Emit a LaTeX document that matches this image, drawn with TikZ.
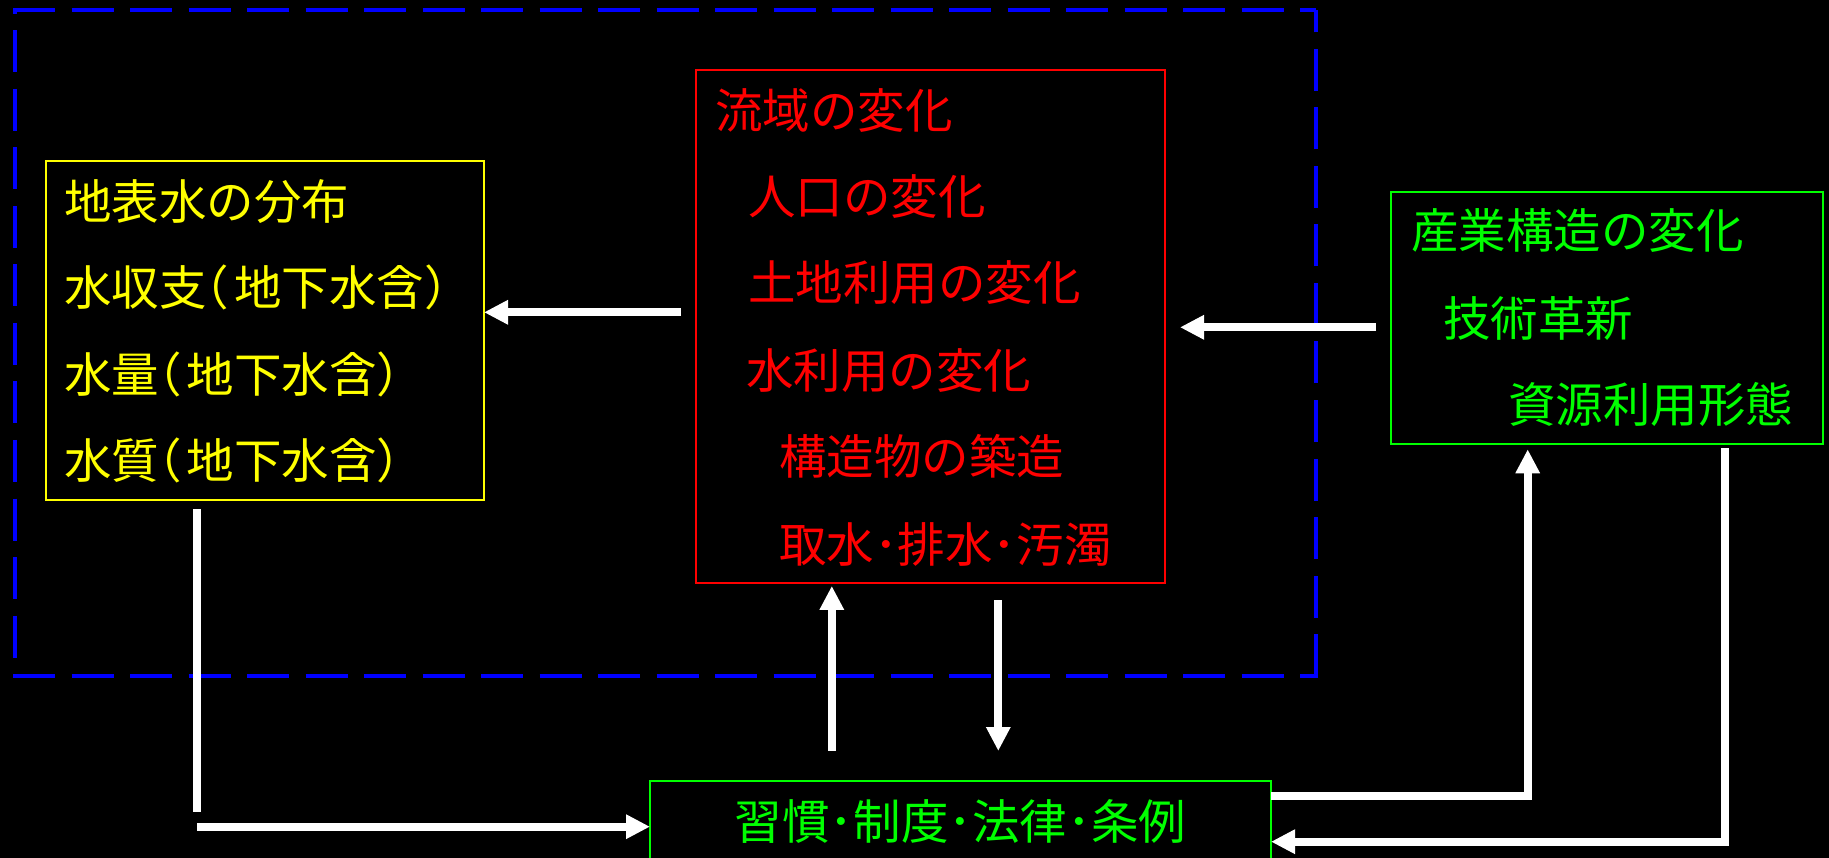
\documentclass[tikz,border=0pt]{standalone}
\usepackage{fontspec}
\newfontfamily\jp{Noto Sans CJK JP}
\usetikzlibrary{arrows.meta}
\definecolor{ylw}{RGB}{255,255,0}
\definecolor{rd}{RGB}{255,0,0}
\definecolor{grn}{RGB}{0,255,0}
\definecolor{blu}{RGB}{0,0,255}
\newcommand{\lpa}{\kern-25pt（\kern5pt}
\newcommand{\rpa}{）\kern-18pt}
\tikzset{
 box/.style={draw=#1, line width=2pt, anchor=north west, inner sep=0pt, outer sep=0pt, rectangle},
 txt/.style={text=#1, anchor=west, inner sep=0pt, font=\jp\fontsize{47.5pt}{52pt}\selectfont},
 arr/.style={draw=white, line width=8pt, line join=miter, -{Triangle[length=24pt,width=23pt]}},
 shaft/.style={draw=white, line width=8pt},
 frame/.style={draw=blu, line width=4pt, dash pattern=on 42pt off 16.5pt},
}
\begin{document}
\begin{tikzpicture}[x=1pt,y=-1pt]
\fill[black] (0,0) rectangle (1829,858);
\useasboundingbox (0,0) rectangle (1829,858);
\clip (0,0) rectangle (1829,858);
% dashed frame
\coordinate (f1) at (15,10);
\coordinate (f2) at (1316,10);
\coordinate (f3) at (1316,676);
\coordinate (f4) at (15,676);
\draw[frame] ([xshift=-2pt]f1) -- (f2);
\draw[frame] (f3) -- (f2);
\draw[frame] ([xshift=-2pt]f4) -- ([xshift=2pt]f3);
\draw[frame, dash phase=38pt] (f1) -- (f4);
% boxes
\node[box=ylw, minimum width=438pt, minimum height=339pt] (yel) at (46,161) {};
\node[box=rd, minimum width=469pt, minimum height=512pt] (red) at (696,70.5) {};
\node[box=grn, minimum width=432pt, minimum height=252pt] (gR) at (1391,192) {};
\node[box=grn, minimum width=621pt, minimum height=150pt] (gB) at (650,781) {};
% yellow texts
\node[txt=ylw] (y1) at (64,202) {地表水の分布};
\node[txt=ylw] (y2) at (64,287) {水収支\lpa 地下水含\rpa};
\node[txt=ylw] (y3) at (64,374) {水量\lpa 地下水含\rpa};
\node[txt=ylw] (y4) at (64,460) {水質\lpa 地下水含\rpa};
% red texts
\node[txt=rd] (r1) at (715,110.5) {流域の変化};
\node[txt=rd] (r2) at (748,196.5) {人口の変化};
\node[txt=rd] (r3) at (748,283) {土地利用の変化};
\node[txt=rd] (r4) at (746,371) {水利用の変化};
\node[txt=rd] (r5) at (779,456) {構造物の築造};
\node[txt=rd] (r6) at (779,544) {取水･排水･汚濁};
% green right texts
\node[txt=grn] (g1) at (1411,231) {産業構造の変化};
\node[txt=grn] (g2) at (1443,319) {技術革新};
\node[txt=grn] (g3) at (1508,404) {資源利用形態};
% bottom text
\node[txt=grn, anchor=center] (b1) at (960.5,821) {習慣･制度･法律･条例};
% connectors
\coordinate (a1) at (681,312.3);
\draw[arr] (a1) -- (a1 -| yel.east);
\coordinate (a2) at (1376,327.3);
\draw[arr] (a2) -- ([xshift=15pt]a2 -| red.east);
\coordinate (a3a) at (197,509);
\coordinate (a3b) at (197,811.7);
\coordinate (a3c) at (197,826.7);
\draw[shaft] (a3a) -- (a3b);
\draw[arr] (a3c) -- (a3c -| gB.west);
\coordinate (a4) at (831.8,750.7);
\draw[arr] (a4) -- ([yshift=-3.4pt]a4 |- red.south);
\coordinate (a5) at (998.3,600);
\draw[arr] (a5) -- ([yshift=30pt]a5 |- gB.north);
\coordinate (a6) at (1271,796);
\coordinate (a6c) at (1527.7,796);
\draw[arr] (a6 -| gB.east) -- (a6c) -- ([yshift=-5.3pt]a6c |- gR.south);
\coordinate (a7) at (1724.6,841.7);
\draw[arr] ([yshift=-4.3pt]a7 |- gR.south) -- (a7) -- (a7 -| gB.east);
\end{tikzpicture}
\end{document}
